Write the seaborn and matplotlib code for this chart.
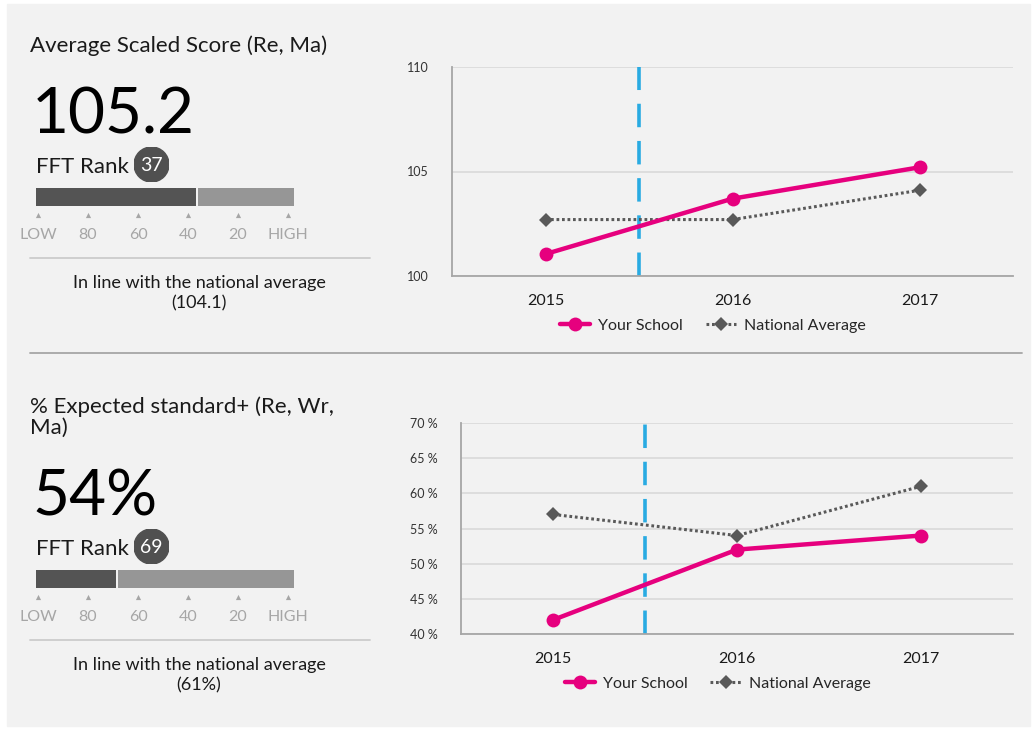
import matplotlib
matplotlib.use("Agg")
import matplotlib.pyplot as plt
from matplotlib.patches import Rectangle, Circle
from matplotlib.lines import Line2D
import numpy as np
import pandas as pd
import seaborn as sns

# data
years = ["2015", "2016", "2017"]
school_score = [101.05, 103.7, 105.2]
national_score = [102.7, 102.7, 104.1]
school_pct = [42, 52, 54]
national_pct = [57, 54, 61]

headline_score = "105.2"
headline_pct = "54%"
rank_score = 37
rank_pct = 69
national_score_now = "(104.1)"
national_pct_now = "(61%)"
rank_ticks = [100, 80, 60, 40, 20, 0]
rank_labels = ["LOW", "80", "60", "40", "20", "HIGH"]

PINK = "#e6007e"
NAT = "#595959"
BLUE = "#29abe2"
BG = "#f2f2f2"
DARK = "#545454"
LIGHT = "#969696"

sns.set_style("white")
plt.rcParams["font.family"] = ["Lato", "DejaVu Sans"]

W, H = 1036, 729
fig = plt.figure(figsize=(W / 100, H / 100), dpi=100)
fig.patch.set_facecolor("white")


def fx(x):
    return x / W


def fy(y):
    return 1 - y / H


fig.patches.append(Rectangle((fx(7), fy(726)), fx(1030) - fx(7), fy(4) - fy(726),
                             transform=fig.transFigure, color=BG, zorder=-10))
fig.lines.append(Line2D([fx(30), fx(1022)], [fy(353), fy(353)], transform=fig.transFigure,
                        color="#a6a6a6", lw=1.3))


def text_block(title_lines, headline, rank, nat_text, y0):
    # y0 = baseline of first title line
    for i, t in enumerate(title_lines):
        fig.text(fx(30), fy(y0 + i * 21), t, fontsize=16, color="#1a1a1a", va="baseline")
    off = (len(title_lines) - 1) * 21
    fig.text(fx(32), fy(y0 + off + 82), headline, fontsize=46, color="black", va="baseline")
    fig.text(fx(36), fy(y0 + off + 121), "FFT Rank", fontsize=16, color="#1a1a1a", va="baseline")

    # rank badge
    bax_c = fig.add_axes([fx(134), fy(y0 + off + 130), 35 / W, 35 / H])
    bax_c.set_xlim(-1, 1)
    bax_c.set_ylim(-1, 1)
    bax_c.add_patch(Circle((0, 0), 1, color="#505050"))
    bax_c.text(0, -0.05, str(rank), ha="center", va="center", color="white", fontsize=14)
    bax_c.axis("off")

    # rank bar
    bar_top = y0 + off + 136
    bax = fig.add_axes([fx(36), fy(bar_top + 18), (294 - 36) / W, 18 / H])
    left, right = 100.8, -2.4
    bax.set_xlim(left, right)
    bax.set_ylim(0, 1)
    bax.barh([0.5], [rank - left], left=[left], height=1, color=DARK, linewidth=0)
    bax.barh([0.5], [right - rank + 1.0], left=[rank - 1.0], height=1, color=LIGHT, linewidth=0)
    bax.scatter(rank_ticks, [-0.5] * len(rank_ticks), marker="^", s=14, color="#a6a6a6",
                clip_on=False, linewidths=0)
    for v, lab in zip(rank_ticks, rank_labels):
        bax.text(v, -1.6, lab, ha="center", va="center", fontsize=11.5, color="#a6a6a6")
    bax.axis("off")

    sep = bar_top + 70
    fig.lines.append(Line2D([fx(30), fx(370)], [fy(sep), fy(sep)], transform=fig.transFigure,
                            color="#cccccc", lw=1.3))
    fig.text(fx(199), fy(sep + 30), "In line with the national average", fontsize=13,
             ha="center", va="baseline", color="#1a1a1a")
    fig.text(fx(199), fy(sep + 50), nat_text, fontsize=13, ha="center", va="baseline",
             color="#1a1a1a")


text_block(["Average Scaled Score (Re, Ma)"], headline_score, rank_score, national_score_now, 52)
text_block(["% Expected standard+ (Re, Wr,", "Ma)"], headline_pct, rank_pct, national_pct_now, 413)


def line_chart(rect, school, national, ylim, yticks, fmt, leg_y):
    ax = fig.add_axes(rect)
    ax.set_facecolor(BG)
    pos = np.arange(len(years))
    df = pd.DataFrame({"pos": pos, "school": school, "national": national})
    sns.lineplot(data=df, x="pos", y="school", ax=ax, color=PINK, marker="o", markersize=10,
                 markeredgewidth=0, linewidth=3.2, label="Your School", zorder=4)
    sns.lineplot(data=df, x="pos", y="national", ax=ax, color=NAT, marker="D", markersize=7,
                 markeredgewidth=0, linewidth=2.2, linestyle=(0, (0.9, 0.9)),
                 label="National Average", zorder=3)
    ax.axvline(0.5, color=BLUE, lw=2.6, dashes=(6.5, 3.8), zorder=2)
    ax.set_xlim(-0.5, len(years) - 0.5)
    ax.set_ylim(*ylim)
    ax.set_yticks(yticks)
    ax.set_yticklabels([fmt(v) for v in yticks])
    ax.set_xticks(pos)
    ax.set_xticklabels(years)
    ax.set_xticks(np.arange(-0.5, len(years), 1.0), minor=True)
    ax.tick_params(axis="x", which="major", length=0, pad=13, labelsize=11.5, colors="#1a1a1a")
    ax.tick_params(axis="x", which="minor", length=11, width=1.2, color="#bfbfbf", direction="out")
    ax.tick_params(axis="y", length=0, pad=17, labelsize=9, colors="#333333")
    ax.grid(axis="y", color="#d9d9d9", lw=1.2)
    ax.set_axisbelow(True)
    for s in ["top", "right"]:
        ax.spines[s].set_visible(False)
    for s in ["left", "bottom"]:
        ax.spines[s].set_color("#a6a6a6")
        ax.spines[s].set_linewidth(1.3)
    ax.set_xlabel("")
    ax.set_ylabel("")
    sns.move_legend(ax, "upper center", bbox_to_anchor=(0.465, leg_y), ncol=2, frameon=False,
                    fontsize=11.5, handlelength=1.9, columnspacing=1.4, handletextpad=0.5)
    return ax


line_chart([fx(452), fy(276), (1013 - 452) / W, (276 - 67) / H], school_score, national_score,
           (100, 110), [100, 105, 110], lambda v: f"{v:g}", -0.135)
line_chart([fx(461), fy(634), (1013 - 461) / W, (634 - 423) / H], school_pct, national_pct,
           (40, 70), [40, 45, 50, 55, 60, 65, 70], lambda v: f"{v:g} %", -0.135)

fig.savefig("out.png", dpi=100, facecolor=fig.get_facecolor())
